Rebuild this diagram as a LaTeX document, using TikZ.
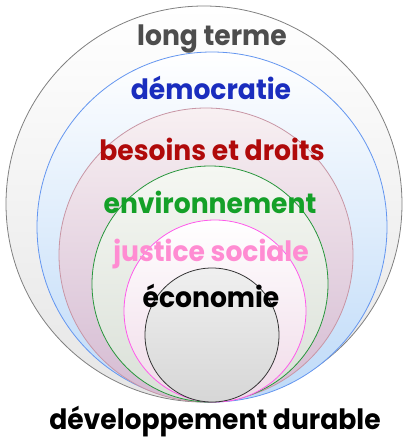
\documentclass[tikz,border=0pt]{standalone}
\usepackage{fontspec}
\setmainfont{Poppins}
\usetikzlibrary{positioning}

\definecolor{termeC}{HTML}{4D4D4D}
\definecolor{demoC}{HTML}{1A2DBE}
\definecolor{besoinsC}{HTML}{B00A0A}
\definecolor{envC}{HTML}{14A028}
\definecolor{justiceC}{HTML}{FF8CD2}

\newcommand{\narrow}[1]{\scalebox{0.95}[1]{#1}}

\tikzset{
  ring/.style={circle,inner sep=0pt,line width=0.8pt},
  word/.style={anchor=base,inner sep=0pt,font=\fontsize{28}{28}\selectfont\bfseries}
}

\begin{document}
\begin{tikzpicture}[x=1pt,y=-1pt]
    \useasboundingbox (0,0) rectangle (402,439);

    % nested circles, all touching at the bottom
    \begin{scope}
        \node[ring,minimum size=396pt,draw=black!50,top color=white,bottom color=black!10] (c1) at (204,204) {};
        \node[ring,minimum size=350pt,draw={rgb,255:red,100;green,150;blue,240},top color=white,bottom color={rgb,255:red,190;green,218;blue,248}] (c2) at (212,227) {};
        \node[ring,minimum size=294pt,draw={rgb,255:red,200;green,150;blue,165},top color={rgb,255:red,248;green,240;blue,242},bottom color={rgb,255:red,212;green,186;blue,210}] (c3) at (206,255) {};
        \node[ring,minimum size=236pt,draw={rgb,255:red,40;green,150;blue,60},top color={rgb,255:red,245;green,247;blue,242},bottom color={rgb,255:red,218;green,224;blue,216}] (c4) at (210,284) {};
        \node[ring,minimum size=182pt,draw={rgb,255:red,255;green,90;blue,235},top color=white,bottom color={rgb,255:red,240;green,218;blue,232}] (c5) at (215,311) {};
        \node[ring,minimum size=134pt,draw=black!80,top color=black!6,bottom color=black!16] (c6) at (212,335) {};
    \end{scope}

    % labels
    \begin{scope}
        \node[word,text=termeC] (terme) at (212,45) {\narrow{long terme}};
        \node[word,text=demoC] (demo) at (211,99) {\narrow{démocratie}};
        \node[word,text=besoinsC] (besoins) at (212,160) {\narrow{besoins et droits}};
        \node[word,text=envC] (env) at (210,213) {\narrow{environnement}};
        \node[word,text=justiceC] (justice) at (211,261) {\narrow{justice sociale}};
        \node[word,text=black] (eco) at (211,307) {\narrow{économie}};
        \node[word,text=black] (dd) at (215,429) {\narrow{développement durable}};
    \end{scope}
\end{tikzpicture}
\end{document}
